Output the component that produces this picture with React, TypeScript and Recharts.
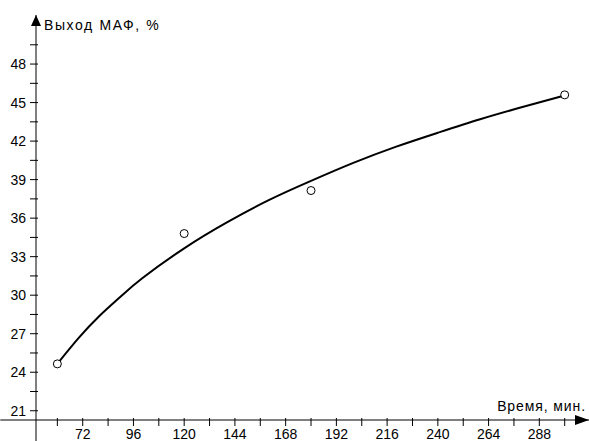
import {
  ComposedChart,
  Line,
  Scatter,
  XAxis,
  YAxis,
  ReferenceLine,
} from "recharts";

// measured points (time, yield)
const POINT_T = [60, 120, 180, 300];
const POINT_Y = [24.65, 34.8, 38.15, 45.6];

// fitted curve
const CURVE_T = [60, 70, 80, 90, 100, 120, 140, 160, 180, 200, 220, 240, 260, 280, 300];
const CURVE_Y = [24.65, 26.65, 28.4, 29.9, 31.3, 33.65, 35.65, 37.4, 38.9, 40.3, 41.55, 42.65, 43.7, 44.65, 45.55];

const X_TICKS = [60, 72, 84, 96, 108, 120, 132, 144, 156, 168, 180, 192, 204, 216, 228, 240, 252, 264, 276, 288, 300];
const Y_TICKS = [21, 22.5, 24, 25.5, 27, 28.5, 30, 31.5, 33, 34.5, 36, 37.5, 39, 40.5, 42, 43.5, 45, 46.5, 48, 49.5];

const X_TITLE = "Время, мин.";
const Y_TITLE = "Выход МАФ, %";

const X_MIN = 49.9;
const X_MAX = 311.5;
const Y_MIN = 20.28;
const Y_MAX = 51.82;

const FONT = "'Liberation Sans', Arial, sans-serif";

const curveData = CURVE_T.map((t, i) => ({ t, y: CURVE_Y[i] }));
const pointData = POINT_T.map((t, i) => ({ t, y: POINT_Y[i] }));

const XTick = ({ x, y, payload }: any) => {
  const v = payload.value as number;
  return (
    <g>
      <line x1={x} x2={x} y1={y - 4} y2={y + 4} stroke="#000" />
      {v % 24 === 0 && (
        <text x={x} y={y + 17} textAnchor="middle" fontSize={14} fontFamily={FONT} fill="#000">
          {v}
        </text>
      )}
    </g>
  );
};

const YTick = ({ x, y, payload }: any) => {
  const v = payload.value as number;
  return (
    <g>
      <line x1={x - 4} x2={x + 4} y1={y} y2={y} stroke="#000" />
      {v % 3 === 0 && (
        <text x={x - 8} y={y + 5} textAnchor="end" fontSize={14} fontFamily={FONT} fill="#000">
          {v}
        </text>
      )}
    </g>
  );
};

const XTitle = ({ viewBox }: any) => {
  const { x, y, width } = viewBox;
  const tip = x + width;
  return (
    <g>
      <polygon points={`${tip},${y} ${tip - 14},${y - 5} ${tip - 14},${y + 5}`} fill="#000" />
      <text x={tip - 3} y={y - 9} textAnchor="end" fontSize={14} letterSpacing={0.9} fontFamily={FONT} fill="#000">
        {X_TITLE}
      </text>
    </g>
  );
};

const YTitle = ({ viewBox }: any) => {
  const { x, y, width } = viewBox;
  const ax = x + width;
  return (
    <g>
      <polygon points={`${ax},${y} ${ax - 5},${y + 11} ${ax + 5},${y + 11}`} fill="#000" />
      <text x={ax + 8} y={y + 15} fontSize={14} letterSpacing={1.6} fontFamily={FONT} fill="#000">
        {Y_TITLE}
      </text>
    </g>
  );
};

export default function App() {
  return (
    <div style={{ width: 589, height: 441, background: "#fff" }}>
      <style>{"body{margin:0;}"}</style>
      <ComposedChart
        width={589}
        height={441}
        margin={{ top: 15, right: 0, bottom: 0, left: 0 }}
      >
        <XAxis
          dataKey="t"
          type="number"
          domain={[X_MIN, X_MAX]}
          ticks={X_TICKS}
          interval={0}
          allowDataOverflow
          height={21}
          axisLine={{ stroke: "#000" }}
          tickLine={false}
          tickSize={0}
          tick={<XTick />}
          label={{ content: <XTitle /> }}
        />
        <YAxis
          dataKey="y"
          type="number"
          domain={[Y_MIN, Y_MAX]}
          ticks={Y_TICKS}
          interval={0}
          allowDataOverflow
          width={36}
          axisLine={{ stroke: "#000" }}
          tickLine={false}
          tickSize={0}
          tick={<YTick />}
          label={{ content: <YTitle /> }}
        />
        <ReferenceLine
          segment={[{ x: 33, y: Y_MIN }, { x: X_MIN, y: Y_MIN }]}
          stroke="#000"
          ifOverflow="visible"
        />
        <ReferenceLine
          segment={[{ x: X_MIN, y: 18.6 }, { x: X_MIN, y: Y_MIN }]}
          stroke="#000"
          ifOverflow="visible"
        />
        <Line
          data={curveData}
          dataKey="y"
          type="natural"
          stroke="#000"
          strokeWidth={2}
          dot={false}
          isAnimationActive={false}
        />
        <Scatter
          data={pointData}
          dataKey="y"
          fill="#fff"
          stroke="#000"
          shape={(p: any) => (
            <circle cx={p.cx} cy={p.cy} r={4} fill="#fff" stroke="#000" strokeWidth={1} />
          )}
          isAnimationActive={false}
        />
      </ComposedChart>
    </div>
  );
}
